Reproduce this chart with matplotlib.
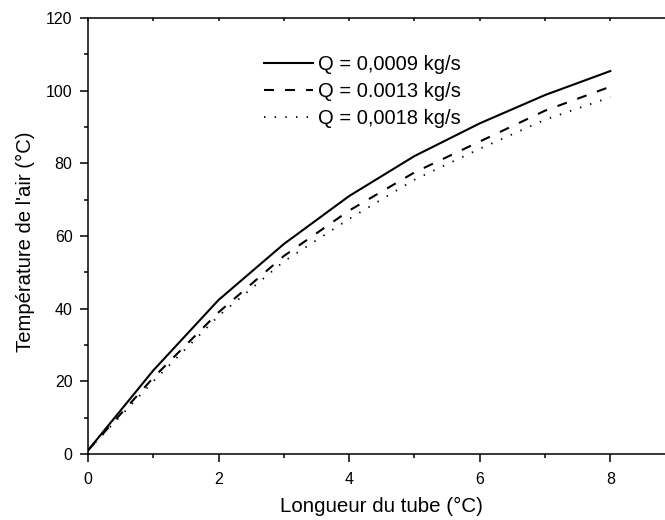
import matplotlib.pyplot as plt
import numpy as np

plt.rcParams['font.family'] = ['Liberation Sans', 'DejaVu Sans']

# tube length positions
x = [0, 1, 2, 3, 4, 5, 6, 7, 8]

# air temperature for each flow rate
t_0009 = [1, 23, 42.4, 57.8, 71, 82, 91, 98.8, 105.4]
t_0013 = [1, 21, 39, 54.5, 67, 77.5, 86, 94.5, 101.1]
t_0018 = [1, 20, 38, 53, 64.7, 75.5, 84, 92, 98.2]

labels = ["Q = 0,0009 kg/s", "Q = 0.0013 kg/s", "Q = 0,0018 kg/s"]

fig = plt.figure(figsize=(6.65, 5.2), dpi=100)
ax = fig.add_axes([0.1323, 0.1269, 0.8837, 0.8385])

ax.plot(x, t_0009, color='black', lw=1.5, ls='-', label=labels[0])
ax.plot(x, t_0013, color='black', lw=1.5, ls=(0, (4.8, 5.3)), label=labels[1])
ax.plot(x, t_0018, color='black', lw=1.3, ls=(0, (0.8, 5.1)), label=labels[2])

ax.set_xlim(0, 9)
ax.set_ylim(0, 120)
ax.set_xticks([0, 2, 4, 6, 8])
ax.set_xticks([1, 3, 5, 7], minor=True)
ax.set_yticks(np.arange(0, 121, 20))
ax.set_yticks(np.arange(10, 120, 20), minor=True)

ax.spines['right'].set_visible(False)
for s in ['left', 'bottom', 'top']:
    ax.spines[s].set_linewidth(1.1)

ax.tick_params(which='major', direction='out', length=5.6, width=1.1, labelsize=11.5)
ax.tick_params(which='minor', direction='out', length=3, width=1.1)
ax.tick_params(axis='x', which='major', pad=7.5)
ax.tick_params(axis='y', which='major', pad=5.5)

# ticks pointing inward on the top spine
top = ax.secondary_xaxis('top')
top.set_xticks([0, 2, 4, 6, 8])
top.set_xticks([1, 3, 5, 7], minor=True)
top.tick_params(which='both', direction='in', length=2.5, width=1.1, labeltop=False)
top.spines['top'].set_visible(False)

ax.set_xlabel("Longueur du tube (°C)", fontsize=14.8, labelpad=7)
ax.set_ylabel("Température de l'air (°C)", fontsize=14.6, labelpad=8)
ax.yaxis.label.set_y(0.486)

ax.legend(loc='upper left', bbox_to_anchor=(0.2995, 0.916), frameon=False,
          fontsize=14.5, handlelength=2.45, handletextpad=0.25,
          labelspacing=0.40, borderpad=0, borderaxespad=0)

fig.savefig('out.png', dpi=100)
